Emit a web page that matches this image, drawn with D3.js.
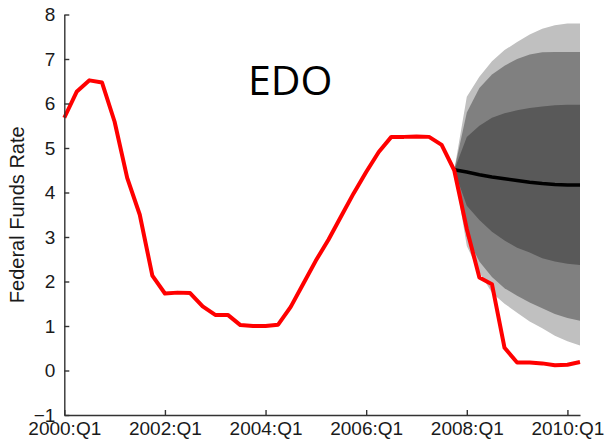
<!DOCTYPE html>
<html>
<head>
<meta charset="utf-8">
<script src="https://cdn.jsdelivr.net/npm/d3@7"></script>
<style>
  html, body { margin: 0; padding: 0; background: #fff; }
  svg { display: block; }
  .axis text { font-family: "Liberation Sans", Arial, Helvetica, sans-serif; font-size: 19px; fill: #1a1a1a; }
  .axis path, .axis line { stroke: #333; stroke-width: 1.4px; }
</style>
</head>
<body>
<svg id="chart" width="606" height="446"></svg>
<script>
// Quarterly federal funds rate, 2000:Q1 – 2010:Q2
const quarters = d3.range(0, 42);
const fundsRate = [5.68, 6.27, 6.52, 6.47, 5.59, 4.33, 3.50, 2.13, 1.73, 1.75, 1.74, 1.44,
                   1.25, 1.25, 1.02, 1.00, 1.00, 1.03, 1.43, 1.95, 2.47, 2.94, 3.46, 3.98,
                   4.46, 4.91, 5.25, 5.25, 5.26, 5.25, 5.07, 4.50, 3.18, 2.09, 1.94, 0.51,
                   0.18, 0.18, 0.16, 0.12, 0.13, 0.19];

// EDO forecast from 2007:Q4 (quarter index 31) to 2010:Q2
const forecastQuarters = d3.range(31, 42);
const forecastMedian = [4.51, 4.46, 4.40, 4.35, 4.31, 4.27, 4.23, 4.20, 4.18, 4.17, 4.17];
// Probability bands: outer, middle, inner (upper and lower bounds)
const outerUpper = [4.5, 6.15, 6.6, 6.95, 7.2, 7.38, 7.55, 7.68, 7.76, 7.8, 7.8];
const outerLower = [4.5, 2.8, 2.2, 1.75, 1.5, 1.3, 1.1, 0.95, 0.78, 0.66, 0.56];
const middleUpper = [4.5, 5.8, 6.35, 6.65, 6.85, 7.0, 7.1, 7.15, 7.16, 7.16, 7.16];
const middleLower = [4.5, 3.0, 2.45, 2.1, 1.85, 1.68, 1.53, 1.4, 1.27, 1.18, 1.12];
const innerUpper = [4.5, 5.25, 5.5, 5.68, 5.78, 5.85, 5.9, 5.93, 5.96, 5.97, 5.97];
const innerLower = [4.5, 3.7, 3.38, 3.12, 2.92, 2.76, 2.65, 2.52, 2.45, 2.4, 2.37];

const xTickQuarters = [0, 8, 16, 24, 32, 40];
const xTickLabels = ["2000:Q1", "2002:Q1", "2004:Q1", "2006:Q1", "2008:Q1", "2010:Q1"];
const yTicks = [-1, 0, 1, 2, 3, 4, 5, 6, 7, 8];

const svg = d3.select("#chart");
const plotLeft = 64.3, plotRight = 580, plotTop = 14.5, plotBottom = 415;

const x = d3.scaleLinear().domain([0, 41]).range([plotLeft, plotRight]);
const y = d3.scaleLinear().domain([-1, 8]).range([plotBottom, plotTop]);

// Fan chart bands
const bands = [
  { up: outerUpper, lo: outerLower, color: "#c0c0c0" },
  { up: middleUpper, lo: middleLower, color: "#808080" },
  { up: innerUpper, lo: innerLower, color: "#595959" }
];
const area = d3.area()
  .x(d => x(d.q))
  .y0(d => y(d.lo))
  .y1(d => y(d.up));
bands.forEach(b => {
  const pts = forecastQuarters.map((q, i) => ({ q, lo: b.lo[i], up: b.up[i] }));
  svg.append("path").attr("d", area(pts)).attr("fill", b.color);
});

// Median forecast
const line = d3.line().x(d => x(d[0])).y(d => y(d[1]));
svg.append("path")
  .attr("d", line(forecastQuarters.map((q, i) => [q, forecastMedian[i]])))
  .attr("fill", "none").attr("stroke", "#000").attr("stroke-width", 3.5)
  .attr("stroke-linejoin", "round");

// Actual rate
svg.append("path")
  .attr("d", line(quarters.map((q, i) => [q, fundsRate[i]])))
  .attr("fill", "none").attr("stroke", "#ff0000").attr("stroke-width", 4)
  .attr("stroke-linejoin", "round");

// Axes
svg.append("g").attr("class", "axis")
  .attr("transform", `translate(0,${plotBottom})`)
  .call(d3.axisBottom(x).tickValues(xTickQuarters)
    .tickFormat((d, i) => xTickLabels[i]).tickSize(-5).tickSizeOuter(0).tickPadding(7));

svg.append("g").attr("class", "axis")
  .attr("transform", `translate(${plotLeft},0)`)
  .call(d3.axisLeft(y).tickValues(yTicks).tickFormat(d3.format("d"))
    .tickSize(-5).tickSizeOuter(0).tickPadding(9));

// Axis title
svg.append("text")
  .attr("transform", `translate(24,${(plotTop + plotBottom) / 2}) rotate(-90)`)
  .attr("text-anchor", "middle")
  .attr("font-family", "Liberation Sans, Arial, sans-serif")
  .attr("font-size", 20).attr("fill", "#1a1a1a")
  .text("Federal Funds Rate");

// Model name
svg.append("text")
  .attr("x", 248).attr("y", 95)
  .attr("font-family", "Open Sans, Noto Sans, sans-serif")
  .attr("font-size", 41).attr("fill", "#000")
  .text("EDO");
</script>
</body>
</html>
